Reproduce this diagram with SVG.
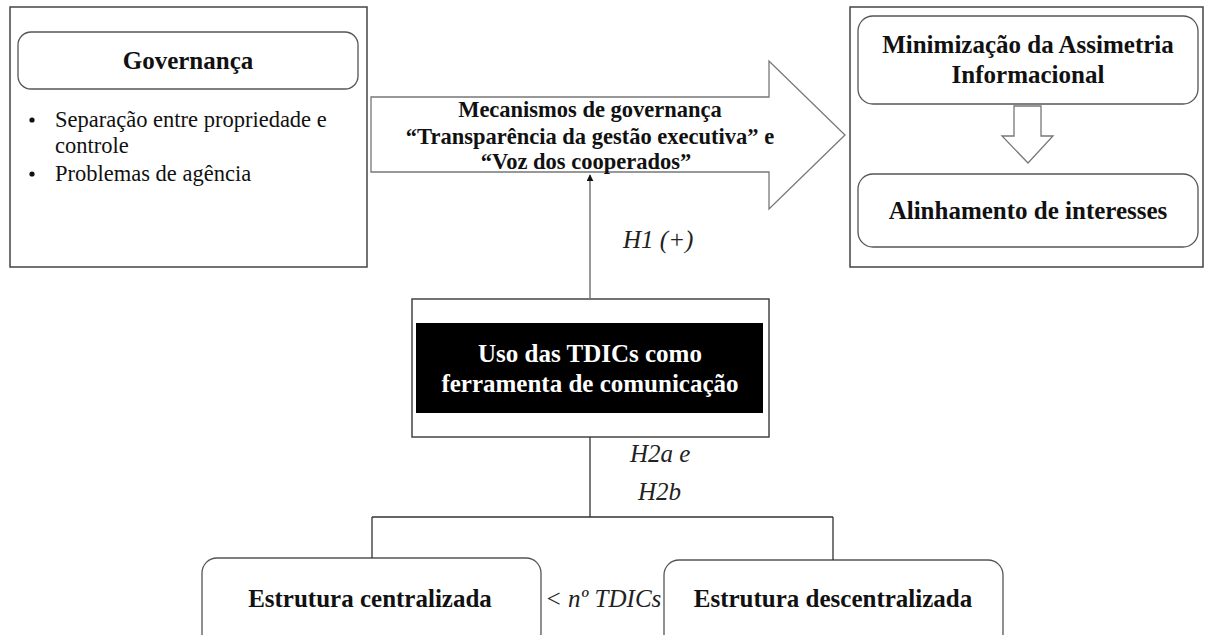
<svg xmlns="http://www.w3.org/2000/svg" width="1205" height="635" viewBox="0 0 1205 635" font-family="'Liberation Serif', 'Times New Roman', Times, 'DejaVu Serif', serif">
<style>
text{font-family:"Liberation Serif","Times New Roman",Times,"DejaVu Serif",serif}
.frame{fill:#fff;stroke:#444;stroke-width:1.5}
.rbox{fill:#fff;stroke:#555;stroke-width:1.3}
.bold{font-weight:bold;font-size:25px;fill:#111;text-anchor:middle}
.mid{font-size:22.5px}
.reg{font-size:22.5px;fill:#111}
.ital{font-style:italic;font-size:25px;fill:#222}
.conn{fill:none;stroke:#333;stroke-width:1.3}
.hollow{fill:#fff;stroke:#777;stroke-width:1.3}
</style>
<defs>
<marker id="ah" viewBox="0 0 10 10" refX="9" refY="5" markerWidth="7" markerHeight="7" orient="auto" markerUnits="userSpaceOnUse">
<path d="M0,0 L10,5 L0,10 Z" fill="#111"/>
</marker>
</defs>
<rect width="1205" height="635" fill="#fff"/>

<g id="governanca">
<rect class="frame" x="10" y="7" width="357" height="260"/>
<rect class="rbox" x="18" y="32" width="340" height="57" rx="13"/>
<text class="bold" x="188" y="69">Governança</text>
<circle cx="32" cy="120" r="2.6" fill="#111"/>
<circle cx="32" cy="174" r="2.6" fill="#111"/>
<text class="reg" x="55" y="127">Separação entre propriedade e</text>
<text class="reg" x="55" y="153">controle</text>
<text class="reg" x="55" y="181">Problemas de agência</text>
</g>

<g id="mecanismos">
<path class="hollow" d="M371,97 H769 V61 L845,135 L769,209 V172 H371 Z"/>
<text class="bold mid" x="590" y="117">Mecanismos de governança</text>
<text class="bold mid" x="590" y="144">“Transparência da gestão executiva” e</text>
<text class="bold mid" x="586" y="169">“Voz dos cooperados”</text>
</g>

<g id="resultados">
<rect class="frame" x="850" y="7" width="353" height="260"/>
<rect class="rbox" x="858" y="16" width="340" height="88" rx="15"/>
<text class="bold" x="1028" y="53">Minimização da Assimetria</text>
<text class="bold" x="1028" y="83">Informacional</text>
<path class="hollow" d="M1014,106 H1041 V136 H1053 L1028,163 L1002,136 H1014 Z"/>
<rect class="rbox" x="858" y="174" width="340" height="73" rx="15"/>
<text class="bold" x="1028" y="219">Alinhamento de interesses</text>
</g>

<g id="tdics">
<rect class="frame" x="412" y="299" width="357" height="138"/>
<rect x="416" y="323" width="347" height="90" fill="#000"/>
<text class="bold" x="590" y="362" style="fill:#fff">Uso das TDICs como</text>
<text class="bold" x="590" y="392" style="fill:#fff">ferramenta de comunicação</text>
</g>

<g id="centralizada">
<rect class="rbox" x="202" y="558" width="339" height="90" rx="15"/>
<text class="bold" x="370" y="607">Estrutura centralizada</text>
</g>

<g id="descentralizada">
<rect class="rbox" x="664" y="560" width="339" height="90" rx="15"/>
<text class="bold" x="833" y="607">Estrutura descentralizada</text>
</g>

<g id="connectors">
<line x1="590" y1="299" x2="590" y2="175" stroke="#777" stroke-width="1.5" marker-end="url(#ah)"/>
<path class="conn" d="M590,437 V517 M372,517 H833 M372,517 V558 M833,517 V560"/>
</g>

<g id="labels">
<text class="ital" x="623" y="248">H1 (+)</text>
<text class="ital" x="630" y="462">H2a e</text>
<text class="ital" x="638" y="500">H2b</text>
<text class="ital" x="545" y="607">&lt; nº TDICs</text>
</g>
</svg>
